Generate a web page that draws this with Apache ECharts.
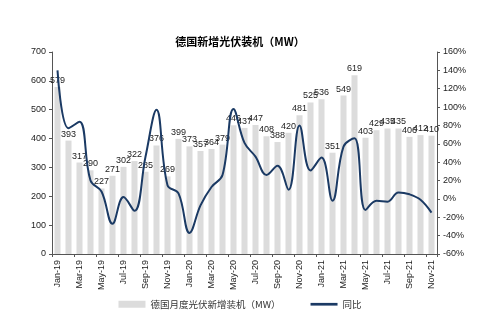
<!DOCTYPE html>
<html><head><meta charset="utf-8">
<script src="https://cdn.jsdelivr.net/npm/echarts@6/dist/echarts.min.js"></script>
<style>html,body{margin:0;padding:0;background:#fff}#c{width:480px;height:321px}</style>
</head><body><div id="c"></div>
<script>
var categories = ["Jan-19","Feb-19","Mar-19","Apr-19","May-19","Jun-19","Jul-19","Aug-19","Sep-19","Oct-19","Nov-19","Dec-19",
"Jan-20","Feb-20","Mar-20","Apr-20","May-20","Jun-20","Jul-20","Aug-20","Sep-20","Oct-20","Nov-20","Dec-20",
"Jan-21","Feb-21","Mar-21","Apr-21","May-21","Jun-21","Jul-21","Aug-21","Sep-21","Oct-21","Nov-21"];
var installs = [579,393,317,290,227,271,302,322,285,376,269,399,
373,357,364,379,446,437,447,408,388,420,481,525,
536,351,549,619,403,429,435,435,406,412,410];
var yoy = [140,77,84,20,8,-27,2,-13,46,97,15,6,
-37,-7,13,26,98,61,46,26,36,10,80,31,
45,-2,57,66,-12,-2,-3,7,5,-1,-15];
var leftTicks = [0,100,200,300,400,500,600,700];
var rightTicks = [-60,-40,-20,0,20,40,60,80,100,120,140,160];

var latin = '"Liberation Sans", Arial, sans-serif';
var cjk = '"Noto Sans CJK SC", sans-serif';
var chart = echarts.init(document.getElementById('c'), null, {renderer:'canvas'});
chart.setOption({
  animation:false,
  backgroundColor:'#fff',
  title:{text:'德国新增光伏装机（MW）', left:'center', top:31,
    textStyle:{fontFamily:cjk, fontSize:11, fontWeight:'bold', color:'#000'}},
  legend:{bottom:7, left:'center', itemGap:30, itemWidth:27, itemHeight:7,
    textStyle:{fontFamily:cjk, fontSize:9.5, color:'#333'},
    data:[{name:'德国月度光伏新增装机（MW）', icon:'rect'},
          {name:'同比', icon:'path://M0,0 L30,0 L30,3 L0,3 Z'}]},
  grid:{left:52, right:43, top:52, bottom:67},
  xAxis:{type:'category', data:categories, boundaryGap:true,
    axisLine:{lineStyle:{color:'#555'}},
    axisTick:{show:true, interval:1, length:3, lineStyle:{color:'#555'}},
    axisLabel:{interval:1, rotate:90, fontFamily:latin, fontSize:9, color:'#222', margin:6}},
  yAxis:[
    {type:'value', min:leftTicks[0], max:leftTicks[leftTicks.length-1], interval:100,
      axisLine:{show:true, lineStyle:{color:'#555'}},
      axisTick:{show:true, length:3, lineStyle:{color:'#555'}},
      splitLine:{show:false},
      axisLabel:{fontFamily:latin, fontSize:9, color:'#222', margin:6}},
    {type:'value', min:rightTicks[0], max:rightTicks[rightTicks.length-1], interval:20,
      axisLine:{show:true, lineStyle:{color:'#555'}},
      axisTick:{show:true, length:3, lineStyle:{color:'#555'}},
      splitLine:{show:false},
      axisLabel:{fontFamily:latin, fontSize:9, color:'#222', margin:6, formatter:'{value}%'}}
  ],
  series:[
    {name:'德国月度光伏新增装机（MW）', type:'bar', data:installs, barWidth:'55%',
      itemStyle:{color:'#dcdcdc'},
      label:{show:true, position:'top', distance:2, fontFamily:latin, fontSize:9, color:'#222'}},
    {name:'同比', type:'line', yAxisIndex:1, data:yoy, smooth:0.4, symbol:'none',
      lineStyle:{color:'#1b3a64', width:2}, itemStyle:{color:'#1b3a64'}, z:5}
  ]
});
</script></body></html>
